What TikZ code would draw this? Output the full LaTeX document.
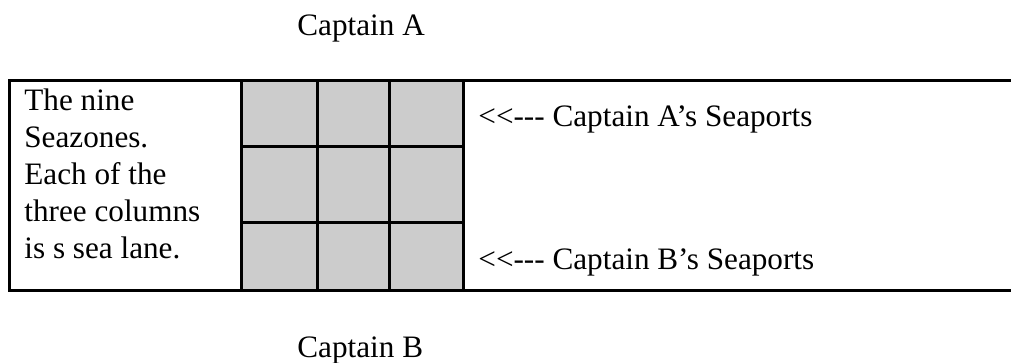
\documentclass[tikz,border=0pt]{standalone}
\usepackage{fontspec}
\setmainfont{Liberation Serif}
\definecolor{cellgray}{RGB}{204,204,204}
\tikzset{
  rule/.style={line width=1.5pt, line cap=rect},
  lbl/.style={anchor=base west, inner sep=0pt, font=\fontsize{15.6}{18}\selectfont},
}
\begin{document}
\begin{tikzpicture}[x=0.5pt, y=-0.5pt]
\useasboundingbox (0,0) rectangle (1011,363);
% grid fill
\fill[cellgray] (241,81) rectangle (463,290);
% outer frame (no right border visible)
\draw[rule] (1011,81) -- (9,81) -- (9,290) -- (1011,290);
% verticals
\foreach \x in {241,317,389,463} \draw[rule] (\x,81) -- (\x,290);
% horizontals within grid
\foreach \y in {147,223} \draw[rule] (241,\y) -- (463,\y);
% texts
\node[lbl] (capA) at (297,36) {Captain A};
\node[lbl] (capB) at (297,357) {Captain B};
\node[lbl] (l1) at (24,111) {The nine};
\node[lbl] (l2) at (24,148) {Seazones.};
\node[lbl] (l3) at (24,185) {Each of the};
\node[lbl] (l4) at (24,221) {three columns};
\node[lbl] (l5) at (24,258) {is s sea lane.};
\node[lbl] (portA) at (478,126.5) {<{}<{}-{}-{}- Captain A’s Seaports};
\node[lbl] (portB) at (478,269.5) {<{}<{}-{}-{}- Captain B’s Seaports};
\end{tikzpicture}
\end{document}
